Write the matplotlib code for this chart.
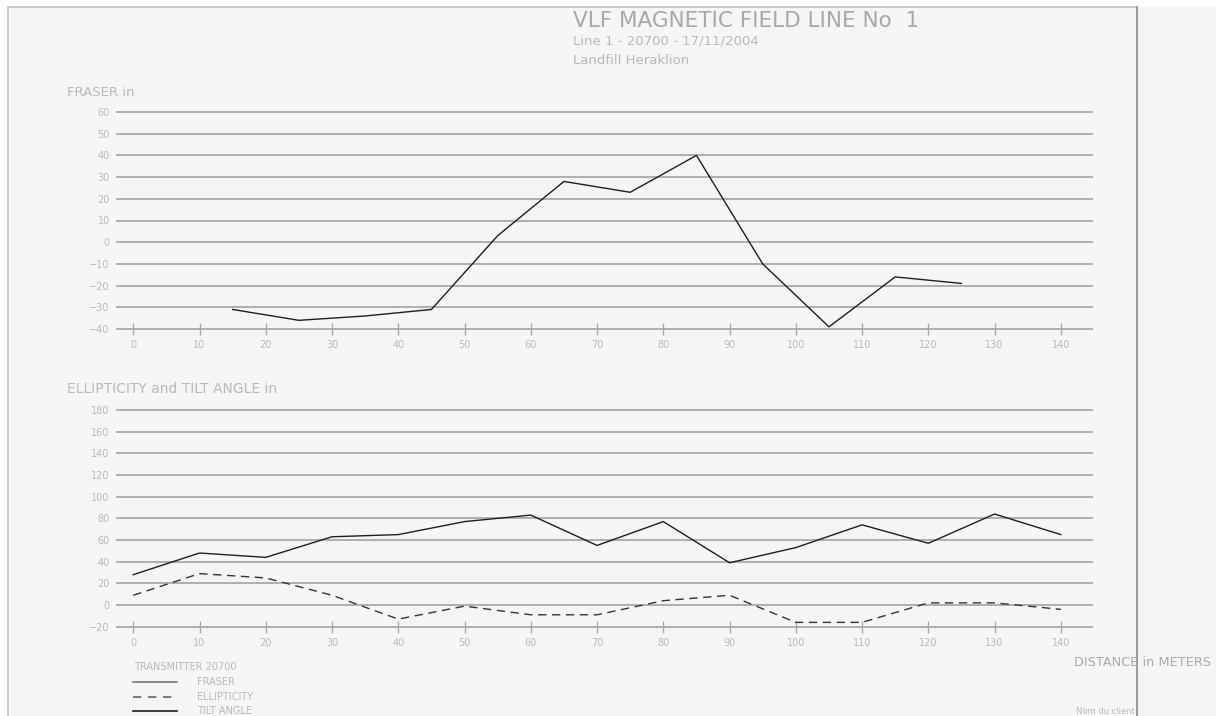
import numpy as np
import matplotlib
matplotlib.use("Agg")
import matplotlib.pyplot as plt
from matplotlib.lines import Line2D
from matplotlib.patches import Rectangle

# data
fraser_x = [15, 25, 35, 45, 55, 65, 75, 85, 95, 105, 115, 125]
fraser_y = [-31, -36, -34, -31, 3, 28, 23, 40, -10, -39, -16, -19]

dist = [0, 10, 20, 30, 40, 50, 60, 70, 80, 90, 100, 110, 120, 130, 140]
tilt = [28, 48, 44, 63, 65, 77, 83, 55, 77, 39, 53, 74, 57, 84, 65]
ellip = [9, 29, 25, 9, -13, -1, -9, -9, 4, 9, -16, -16, 2, 2, -4]

fraser_ticks = [-40, -30, -20, -10, 0, 10, 20, 30, 40, 50, 60]
ell_ticks = [-20, 0, 20, 40, 60, 80, 100, 120, 140, 160, 180]
x_ticks = list(range(0, 150, 10))

W, H = 1219, 716
TXT = "#b9b9b9"
GRID = "#a9a9a9"
LINE = "#1e1e1e"

plt.rcParams['font.family'] = ['DejaVu Sans']

fig = plt.figure(figsize=(W / 100, H / 100), dpi=100)
fig.patch.set_facecolor("white")


def fx(px):
    return px / W


def fy(py):
    return 1 - py / H


# page background and frame
fig.add_artist(Rectangle((fx(8), 0), fx(1216 - 8), fy(7), transform=fig.transFigure,
                         facecolor="#f5f5f5", edgecolor="none", zorder=0))
fig.add_artist(Line2D([fx(8), fx(1137)], [fy(7), fy(7)], color="#c4c4c4", lw=1.2))
fig.add_artist(Line2D([fx(8), fx(8)], [fy(7), 0], color="#c4c4c4", lw=1.2))
fig.add_artist(Line2D([fx(1137), fx(1137)], [fy(7), 0], color="#9a9a9a", lw=1.5))


def make_axes(top, bottom, ticks):
    ax = fig.add_axes([fx(116.7), fy(bottom), fx(1092 - 116.7), (bottom - top) / H])
    ax.patch.set_alpha(0)
    for s in ax.spines.values():
        s.set_visible(False)
    ax.set_xlim(-2.5, 144.7)
    ax.set_ylim(ticks[0], ticks[-1])
    for t in ticks:
        ax.axhline(t, color=GRID, lw=1.3, clip_on=False, zorder=1)
    ax.plot(x_ticks, [ticks[0]] * len(x_ticks), ls="none", marker="|", ms=9,
            mew=1.0, color=GRID, clip_on=False)
    ax.set_xticks(x_ticks)
    ax.set_yticks(ticks)
    ax.tick_params(axis="x", length=0, pad=8, labelsize=7, labelcolor=TXT)
    ax.tick_params(axis="y", length=0, pad=5, labelsize=7, labelcolor=TXT)
    return ax


ax1 = make_axes(112, 329, fraser_ticks)
ax1.plot(fraser_x, fraser_y, color=LINE, lw=1.0, zorder=3)

ax2 = make_axes(410, 626.7, ell_ticks)
ax2.plot(dist, tilt, color=LINE, lw=1.0, zorder=3)
ax2.plot(dist, ellip, color="#333333", lw=1.0, dashes=(6, 4), zorder=3)

# titles
fig.text(fx(573), fy(21), "VLF MAGNETIC FIELD LINE No  1", fontsize=15.5, color="#a8a8a8",
         va="center", ha="left")
fig.text(fx(573), fy(41), "Line 1 - 20700 - 17/11/2004", fontsize=9.5, color=TXT,
         va="center", ha="left")
fig.text(fx(573), fy(60), "Landfill Heraklion", fontsize=9.5, color=TXT,
         va="center", ha="left")
fig.text(fx(67), fy(93), "FRASER in", fontsize=9.5, color=TXT, va="center", ha="left")
fig.text(fx(67), fy(389), "ELLIPTICITY and TILT ANGLE in", fontsize=10, color=TXT,
         va="center", ha="left")

# legend
fig.text(fx(134), fy(667), "TRANSMITTER 20700", fontsize=7, color=TXT, va="center")
leg = [("FRASER", "#777777", "-", 682), ("ELLIPTICITY", "#666666", "--", 697),
       ("TILT ANGLE", LINE, "-", 711)]
for name, col, ls, yy in leg:
    l = Line2D([fx(133), fx(177)], [fy(yy), fy(yy)], color=col, lw=1.2)
    if ls == "--":
        l.set_dashes((5, 4))
    fig.add_artist(l)
    fig.text(fx(197), fy(yy), name, fontsize=7, color=TXT, va="center")

fig.text(fx(1074), fy(663), "DISTANCE in METERS", fontsize=9.3, color="#aaaaaa", va="center")
fig.text(fx(1076), fy(711), "Nom du client", fontsize=6, color=TXT, va="center")

fig.savefig("out.png", dpi=100, facecolor=fig.get_facecolor())
